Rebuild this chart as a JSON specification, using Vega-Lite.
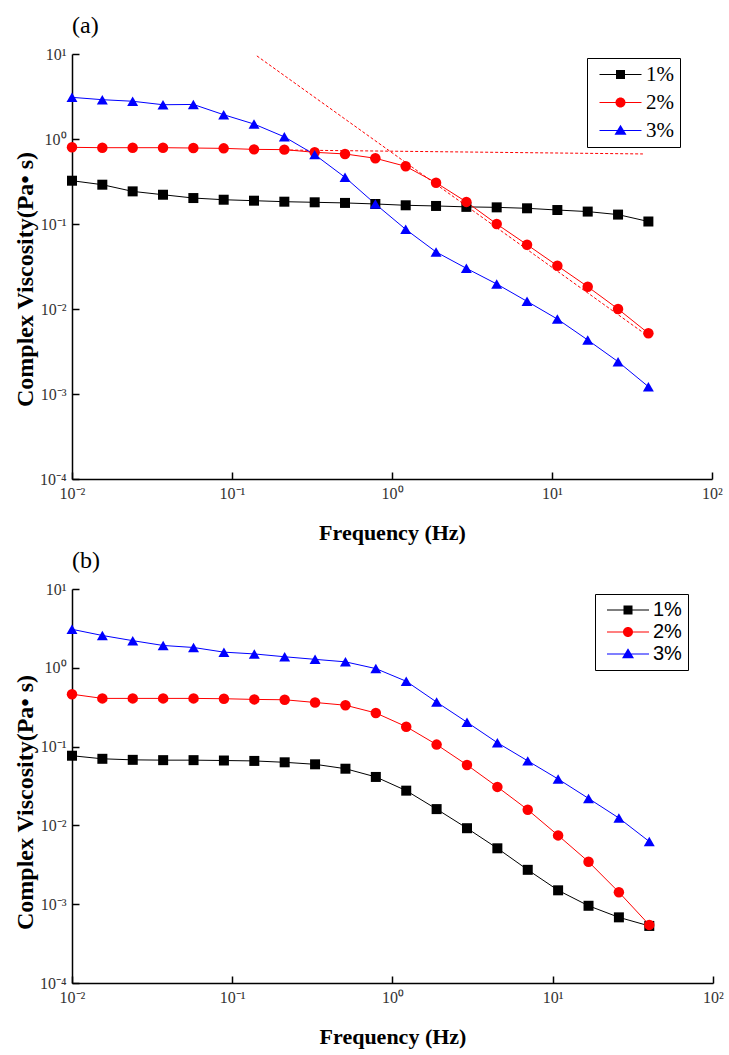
{
  "$schema": "https://vega.github.io/schema/vega-lite/v6.json",
  "background": "white",
  "padding": {"left": 13, "top": 14, "right": 5, "bottom": 5},
  "spacing": 6,
  "resolve": {"scale": {"fill": "independent", "shape": "independent"}, "legend": {"fill": "independent", "shape": "independent"}},
  "config": {
    "view": {"stroke": null},
    "font": "Liberation Serif",
    "title": {"font": "Liberation Serif", "fontSize": 24, "fontWeight": "normal", "anchor": "start", "frame": "group", "offset": 8, "color": "#000000"},
    "axis": {
      "domainColor": "#000000", "domainWidth": 1.5, "tickColor": "#000000", "tickWidth": 1.5,
      "tickSize": -7, "labelPadding": 13, "grid": false, "labelFlush": false, "labelOverlap": false,
      "labelFont": "Liberation Serif", "labelFontSize": 16, "labelColor": "#333333",
      "titleFont": "Liberation Serif", "titleFontSize": 24, "titleFontWeight": "bold", "titleColor": "#000000",
      "labelExpr": "'10' + ['⁻⁴','⁻³','⁻²','⁻¹','⁰','¹','²'][round(log(datum.value)/LN10)+4]"
    },
    "legend": {
      "strokeColor": "#000000", "fillColor": "#ffffff", "padding": 6, "symbolSize": 400,
      "symbolOpacity": 1, "symbolStrokeWidth": 0, "labelColor": "#000000"
    }
  },
  "datasets": {
    "a": [
      {"conc": "1%", "freq": 0.01, "visc": 0.323}, {"conc": "1%", "freq": 0.01547, "visc": 0.29}, {"conc": "1%", "freq": 0.02394, "visc": 0.242}, {"conc": "1%", "freq": 0.03705, "visc": 0.221}, {"conc": "1%", "freq": 0.05734, "visc": 0.202}, {"conc": "1%", "freq": 0.08872, "visc": 0.193}, {"conc": "1%", "freq": 0.1373, "visc": 0.188}, {"conc": "1%", "freq": 0.2124, "visc": 0.183}, {"conc": "1%", "freq": 0.3287, "visc": 0.18}, {"conc": "1%", "freq": 0.5086, "visc": 0.177}, {"conc": "1%", "freq": 0.787, "visc": 0.172}, {"conc": "1%", "freq": 1.218, "visc": 0.166}, {"conc": "1%", "freq": 1.885, "visc": 0.163}, {"conc": "1%", "freq": 2.916, "visc": 0.159}, {"conc": "1%", "freq": 4.512, "visc": 0.157}, {"conc": "1%", "freq": 6.982, "visc": 0.153}, {"conc": "1%", "freq": 10.8, "visc": 0.146}, {"conc": "1%", "freq": 16.72, "visc": 0.14}, {"conc": "1%", "freq": 25.87, "visc": 0.129}, {"conc": "1%", "freq": 40.03, "visc": 0.107},
      {"conc": "2%", "freq": 0.01, "visc": 0.798}, {"conc": "2%", "freq": 0.01547, "visc": 0.79}, {"conc": "2%", "freq": 0.02394, "visc": 0.79}, {"conc": "2%", "freq": 0.03705, "visc": 0.79}, {"conc": "2%", "freq": 0.05734, "visc": 0.783}, {"conc": "2%", "freq": 0.08872, "visc": 0.776}, {"conc": "2%", "freq": 0.1373, "visc": 0.755}, {"conc": "2%", "freq": 0.2124, "visc": 0.75}, {"conc": "2%", "freq": 0.3287, "visc": 0.697}, {"conc": "2%", "freq": 0.5086, "visc": 0.667}, {"conc": "2%", "freq": 0.787, "visc": 0.593}, {"conc": "2%", "freq": 1.218, "visc": 0.477}, {"conc": "2%", "freq": 1.885, "visc": 0.306}, {"conc": "2%", "freq": 2.916, "visc": 0.182}, {"conc": "2%", "freq": 4.512, "visc": 0.1}, {"conc": "2%", "freq": 6.982, "visc": 0.0571}, {"conc": "2%", "freq": 10.8, "visc": 0.0323}, {"conc": "2%", "freq": 16.72, "visc": 0.0183}, {"conc": "2%", "freq": 25.87, "visc": 0.01}, {"conc": "2%", "freq": 40.03, "visc": 0.00518},
      {"conc": "3%", "freq": 0.01, "visc": 3.09}, {"conc": "3%", "freq": 0.01547, "visc": 2.9}, {"conc": "3%", "freq": 0.02394, "visc": 2.78}, {"conc": "3%", "freq": 0.03705, "visc": 2.53}, {"conc": "3%", "freq": 0.05734, "visc": 2.55}, {"conc": "3%", "freq": 0.08872, "visc": 1.93}, {"conc": "3%", "freq": 0.1373, "visc": 1.5}, {"conc": "3%", "freq": 0.2124, "visc": 1.06}, {"conc": "3%", "freq": 0.3287, "visc": 0.655}, {"conc": "3%", "freq": 0.5086, "visc": 0.354}, {"conc": "3%", "freq": 0.787, "visc": 0.172}, {"conc": "3%", "freq": 1.218, "visc": 0.0865}, {"conc": "3%", "freq": 1.885, "visc": 0.0469}, {"conc": "3%", "freq": 2.916, "visc": 0.0301}, {"conc": "3%", "freq": 4.512, "visc": 0.0197}, {"conc": "3%", "freq": 6.982, "visc": 0.0123}, {"conc": "3%", "freq": 10.8, "visc": 0.00762}, {"conc": "3%", "freq": 16.72, "visc": 0.00432}, {"conc": "3%", "freq": 25.87, "visc": 0.0024}, {"conc": "3%", "freq": 40.03, "visc": 0.00122}
    ],
    "guides": [
      {"seg": "plateau", "freq": 0.2, "visc": 0.743}, {"seg": "plateau", "freq": 37, "visc": 0.667},
      {"seg": "slope", "freq": 0.143, "visc": 9.5}, {"seg": "slope", "freq": 37, "visc": 0.0053}
    ],
    "b": [
      {"conc": "1%", "freq": 0.01, "visc": 0.0766}, {"conc": "1%", "freq": 0.01547, "visc": 0.07}, {"conc": "1%", "freq": 0.02394, "visc": 0.0679}, {"conc": "1%", "freq": 0.03705, "visc": 0.0673}, {"conc": "1%", "freq": 0.05734, "visc": 0.0673}, {"conc": "1%", "freq": 0.08872, "visc": 0.0666}, {"conc": "1%", "freq": 0.1373, "visc": 0.0658}, {"conc": "1%", "freq": 0.2124, "visc": 0.0632}, {"conc": "1%", "freq": 0.3287, "visc": 0.0596}, {"conc": "1%", "freq": 0.5086, "visc": 0.0524}, {"conc": "1%", "freq": 0.787, "visc": 0.0412}, {"conc": "1%", "freq": 1.218, "visc": 0.0276}, {"conc": "1%", "freq": 1.885, "visc": 0.0161}, {"conc": "1%", "freq": 2.916, "visc": 0.00921}, {"conc": "1%", "freq": 4.512, "visc": 0.00512}, {"conc": "1%", "freq": 6.982, "visc": 0.00273}, {"conc": "1%", "freq": 10.8, "visc": 0.0015}, {"conc": "1%", "freq": 16.72, "visc": 0.000955}, {"conc": "1%", "freq": 25.87, "visc": 0.000681}, {"conc": "1%", "freq": 40.03, "visc": 0.00053},
      {"conc": "2%", "freq": 0.01, "visc": 0.462}, {"conc": "2%", "freq": 0.01547, "visc": 0.409}, {"conc": "2%", "freq": 0.02394, "visc": 0.409}, {"conc": "2%", "freq": 0.03705, "visc": 0.409}, {"conc": "2%", "freq": 0.05734, "visc": 0.409}, {"conc": "2%", "freq": 0.08872, "visc": 0.405}, {"conc": "2%", "freq": 0.1373, "visc": 0.397}, {"conc": "2%", "freq": 0.2124, "visc": 0.393}, {"conc": "2%", "freq": 0.3287, "visc": 0.363}, {"conc": "2%", "freq": 0.5086, "visc": 0.335}, {"conc": "2%", "freq": 0.787, "visc": 0.267}, {"conc": "2%", "freq": 1.218, "visc": 0.179}, {"conc": "2%", "freq": 1.885, "visc": 0.106}, {"conc": "2%", "freq": 2.916, "visc": 0.0585}, {"conc": "2%", "freq": 4.512, "visc": 0.0308}, {"conc": "2%", "freq": 6.982, "visc": 0.0158}, {"conc": "2%", "freq": 10.8, "visc": 0.00747}, {"conc": "2%", "freq": 16.72, "visc": 0.00346}, {"conc": "2%", "freq": 25.87, "visc": 0.00142}, {"conc": "2%", "freq": 40.03, "visc": 0.000546},
      {"conc": "3%", "freq": 0.01, "visc": 3.08}, {"conc": "3%", "freq": 0.01547, "visc": 2.57}, {"conc": "3%", "freq": 0.02394, "visc": 2.21}, {"conc": "3%", "freq": 0.03705, "visc": 1.92}, {"conc": "3%", "freq": 0.05734, "visc": 1.81}, {"conc": "3%", "freq": 0.08872, "visc": 1.58}, {"conc": "3%", "freq": 0.1373, "visc": 1.5}, {"conc": "3%", "freq": 0.2124, "visc": 1.38}, {"conc": "3%", "freq": 0.3287, "visc": 1.28}, {"conc": "3%", "freq": 0.5086, "visc": 1.19}, {"conc": "3%", "freq": 0.787, "visc": 0.977}, {"conc": "3%", "freq": 1.218, "visc": 0.675}, {"conc": "3%", "freq": 1.885, "visc": 0.367}, {"conc": "3%", "freq": 2.916, "visc": 0.204}, {"conc": "3%", "freq": 4.512, "visc": 0.112}, {"conc": "3%", "freq": 6.982, "visc": 0.0659}, {"conc": "3%", "freq": 10.8, "visc": 0.0388}, {"conc": "3%", "freq": 16.72, "visc": 0.022}, {"conc": "3%", "freq": 25.87, "visc": 0.0124}, {"conc": "3%", "freq": 40.03, "visc": 0.00624}
    ]
  },
  "vconcat": [
    {
      "title": {"text": "(a)"},
      "width": 640, "height": 425,
      "data": {"name": "a"},
      "encoding": {
        "x": {"field": "freq", "type": "quantitative", "scale": {"type": "log", "domain": [0.01, 100], "nice": false},
              "axis": {"title": "Frequency (Hz)", "titleFontSize": 22, "values": [0.01, 0.1, 1, 10, 100], "titlePadding": 21}},
        "y": {"field": "visc", "type": "quantitative", "scale": {"type": "log", "domain": [0.0001, 10], "nice": false},
              "axis": {"title": "Complex Viscosity(Pa• s)", "values": [0.0001, 0.001, 0.01, 0.1, 1, 10], "titlePadding": 2, "titleY": 225}}
      },
      "layer": [
        {"data": {"name": "guides"}, "mark": {"type": "line", "color": "#ff0000", "strokeWidth": 1, "strokeDash": [3, 2], "clip": true},
         "encoding": {"detail": {"field": "seg"}}},
        {"transform": [{"filter": "datum.conc === '1%'"}], "mark": {"type": "line", "strokeWidth": 1, "color": "#000000"}, "encoding": {}},
        {"transform": [{"filter": "datum.conc === '2%'"}], "mark": {"type": "line", "strokeWidth": 1, "color": "#ff0000"}, "encoding": {}},
        {"transform": [{"filter": "datum.conc === '3%'"}], "mark": {"type": "line", "strokeWidth": 1, "color": "#0000ff"}, "encoding": {}},
        {"transform": [{"filter": "datum.conc === '1%'"}], "mark": {"type": "point", "shape": "square", "filled": true, "opacity": 1, "size": 100, "color": "#000000"}, "encoding": {}},
        {"transform": [{"filter": "datum.conc === '2%'"}], "mark": {"type": "point", "shape": "circle", "filled": true, "opacity": 1, "size": 110, "color": "#ff0000"}, "encoding": {}},
        {"transform": [{"filter": "datum.conc === '3%'"}], "mark": {"type": "point", "shape": "triangle-up", "filled": true, "opacity": 1, "size": 120, "color": "#0000ff"}, "encoding": {}},
        {"mark": {"type": "point", "filled": true, "opacity": 0},
         "encoding": {
           "shape": {"field": "conc", "type": "nominal", "scale": {"domain": ["1%", "2%", "3%"], "range": [
             "M-2.1,-0.05H2.1V0.05H-2.1ZM-0.45,-0.45H0.45V0.45H-0.45Z",
             "M-2.1,-0.05H2.1V0.05H-2.1ZM0.5,0A0.5,0.5 0 1,1 -0.5,0A0.5,0.5 0 1,1 0.5,0Z",
             "M-2.1,-0.05H2.1V0.05H-2.1ZM0,-0.58L0.6,0.42H-0.6Z"]}},
           "fill": {"field": "conc", "type": "nominal", "scale": {"domain": ["1%", "2%", "3%"], "range": ["#000000", "#ff0000", "#0000ff"]},
             "legend": {"title": null, "orient": "none", "legendX": 515, "legendY": 4, "labelFont": "Liberation Serif", "labelFontSize": 21,
               "rowPadding": 6, "symbolOffset": 17, "labelOffset": 15, "padding": 6}}
         }}
      ]
    },
    {
      "title": {"text": "(b)"},
      "width": 641, "height": 394,
      "data": {"name": "b"},
      "encoding": {
        "x": {"field": "freq", "type": "quantitative", "scale": {"type": "log", "domain": [0.01, 100], "nice": false},
              "axis": {"title": "Frequency (Hz)", "titleFontSize": 22, "values": [0.01, 0.1, 1, 10, 100], "titlePadding": 21}},
        "y": {"field": "visc", "type": "quantitative", "scale": {"type": "log", "domain": [0.0001, 10], "nice": false},
              "axis": {"title": "Complex Viscosity(Pa• s)", "values": [0.0001, 0.001, 0.01, 0.1, 1, 10], "titlePadding": 2, "titleY": 213}}
      },
      "layer": [
        {"transform": [{"filter": "datum.conc === '1%'"}], "mark": {"type": "line", "strokeWidth": 1, "color": "#000000"}, "encoding": {}},
        {"transform": [{"filter": "datum.conc === '2%'"}], "mark": {"type": "line", "strokeWidth": 1, "color": "#ff0000"}, "encoding": {}},
        {"transform": [{"filter": "datum.conc === '3%'"}], "mark": {"type": "line", "strokeWidth": 1, "color": "#0000ff"}, "encoding": {}},
        {"transform": [{"filter": "datum.conc === '1%'"}], "mark": {"type": "point", "shape": "square", "filled": true, "opacity": 1, "size": 100, "color": "#000000"}, "encoding": {}},
        {"transform": [{"filter": "datum.conc === '2%'"}], "mark": {"type": "point", "shape": "circle", "filled": true, "opacity": 1, "size": 110, "color": "#ff0000"}, "encoding": {}},
        {"transform": [{"filter": "datum.conc === '3%'"}], "mark": {"type": "point", "shape": "triangle-up", "filled": true, "opacity": 1, "size": 120, "color": "#0000ff"}, "encoding": {}},
        {"mark": {"type": "point", "filled": true, "opacity": 0},
         "encoding": {
           "shape": {"field": "conc", "type": "nominal", "scale": {"domain": ["1%", "2%", "3%"], "range": [
             "M-2.1,-0.05H2.1V0.05H-2.1ZM-0.45,-0.45H0.45V0.45H-0.45Z",
             "M-2.1,-0.05H2.1V0.05H-2.1ZM0.5,0A0.5,0.5 0 1,1 -0.5,0A0.5,0.5 0 1,1 0.5,0Z",
             "M-2.1,-0.05H2.1V0.05H-2.1ZM0,-0.58L0.6,0.42H-0.6Z"]}},
           "fill": {"field": "conc", "type": "nominal", "scale": {"domain": ["1%", "2%", "3%"], "range": ["#000000", "#ff0000", "#0000ff"]},
             "legend": {"title": null, "orient": "none", "legendX": 523, "legendY": 5, "labelFont": "Liberation Sans", "labelFontSize": 20,
               "rowPadding": 2, "symbolOffset": 17, "labelOffset": 15, "padding": 6}}
         }}
      ]
    }
  ]
}
